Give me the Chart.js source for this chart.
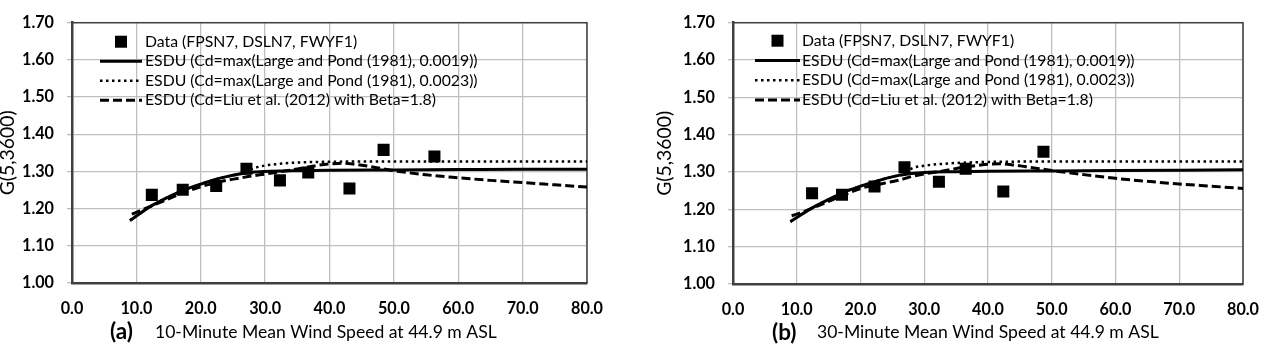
<!DOCTYPE html>
<html>
<head>
<meta charset="utf-8">
<script src="https://cdn.jsdelivr.net/npm/chart.js@4.4.1/dist/chart.umd.min.js"></script>
<style>
  html, body { margin: 0; padding: 0; background: #fff; }
  .panel { position: absolute; top: 0; height: 348px; }
  #panelA { left: 0; width: 637px; }
  #panelB { left: 637px; width: 638px; }
</style>
</head>
<body>
<div class="panel" id="panelA"><canvas id="chartA"></canvas></div>
<div class="panel" id="panelB"><canvas id="chartB"></canvas></div>
<script>
// axis ticks
const speedTicks = [0, 10, 20, 30, 40, 50, 60, 70, 80];
const gustTicks = [1.0, 1.1, 1.2, 1.3, 1.4, 1.5, 1.6, 1.7];

const seriesLabels = [
  'Data (FPSN7, DSLN7, FWYF1)',
  'ESDU (Cd=max(Large and Pond (1981), 0.0019))',
  'ESDU (Cd=max(Large and Pond (1981), 0.0023))',
  'ESDU (Cd=Liu et al. (2012) with Beta=1.8)'
];
const yTitle = 'G(5,3600)';

// (a) 10-minute mean
const obsSpeedA = [12.4, 17.2, 22.4, 27.1, 32.3, 36.7, 43.1, 48.4, 56.3];
const obsGustA  = [1.237, 1.251, 1.261, 1.307, 1.276, 1.297, 1.254, 1.358, 1.340];
const lp19SpeedA = [9, 10, 12, 14, 16, 18, 20, 22, 24, 26, 28, 30, 35, 40, 50, 60, 70, 80];
const lp19GustA  = [1.168, 1.180, 1.204, 1.223, 1.240, 1.254, 1.266, 1.277, 1.286, 1.293, 1.298, 1.300, 1.302, 1.303, 1.304, 1.305, 1.306, 1.306];
const lp23SpeedA = [9, 10, 12, 14, 16, 18, 20, 22, 24, 26, 27, 28, 30, 32, 35, 40, 50, 60, 70, 80];
const lp23GustA  = [1.168, 1.180, 1.204, 1.223, 1.240, 1.254, 1.266, 1.277, 1.286, 1.293, 1.298, 1.307, 1.316, 1.320, 1.324, 1.326, 1.327, 1.327, 1.327, 1.327];
const liuSpeedA = [9.3, 10, 12, 14, 16, 18, 20, 22, 24, 26, 28, 30, 33, 36, 38, 40, 42, 44, 46, 48, 50, 55, 60, 65, 70, 75, 80];
const liuGustA  = [1.185, 1.190, 1.205, 1.219, 1.234, 1.247, 1.259, 1.268, 1.276, 1.282, 1.288, 1.293, 1.301, 1.310, 1.316, 1.320, 1.322, 1.319, 1.314, 1.308, 1.302, 1.291, 1.283, 1.276, 1.270, 1.264, 1.258];

// (b) 30-minute mean
const obsSpeedB = [12.4, 17.1, 22.2, 26.9, 32.3, 36.5, 42.4, 48.7];
const obsGustB  = [1.243, 1.239, 1.261, 1.313, 1.274, 1.309, 1.248, 1.354];
const lp19SpeedB = [9, 10, 12, 14, 16, 18, 20, 22, 24, 26, 28, 30, 35, 40, 50, 60, 70, 80];
const lp19GustB  = [1.167, 1.178, 1.200, 1.218, 1.235, 1.250, 1.262, 1.273, 1.283, 1.291, 1.296, 1.299, 1.301, 1.302, 1.303, 1.304, 1.305, 1.306];
const lp23SpeedB = [9, 10, 12, 14, 16, 18, 20, 22, 24, 26, 27, 28, 30, 33, 36, 40, 50, 60, 70, 80];
const lp23GustB  = [1.167, 1.178, 1.200, 1.218, 1.235, 1.250, 1.262, 1.273, 1.283, 1.291, 1.295, 1.309, 1.317, 1.322, 1.325, 1.327, 1.328, 1.328, 1.328, 1.328];
const liuSpeedB = [9.2, 10, 12, 14, 16, 18, 20, 22, 24, 26, 28, 30, 32, 34, 36, 38, 40, 42, 44, 46, 48, 50, 55, 60, 65, 70, 75, 80];
const liuGustB  = [1.183, 1.187, 1.200, 1.214, 1.229, 1.243, 1.256, 1.264, 1.271, 1.278, 1.288, 1.295, 1.300, 1.306, 1.312, 1.317, 1.321, 1.322, 1.319, 1.314, 1.309, 1.304, 1.293, 1.283, 1.275, 1.268, 1.262, 1.256];

Chart.defaults.font.family = 'Lato';
Chart.defaults.color = '#000';

// Lato stands in for Calibri: pick sizes so text spans the same width as in the original
const measureCtx = document.createElement('canvas').getContext('2d');
function fitFont(text, weight, targetWidth) {
  measureCtx.font = `${weight} 100px Lato`;
  return 100 * targetWidth / measureCtx.measureText(text).width;
}
const tickSize = fitFont('80.0', 'bold', 32);
const legendSize = fitFont(seriesLabels[1], 'normal', 333);
const captionSize = fitFont('10-Minute Mean Wind Speed at 44.9 m ASL', 'normal', 342);
const tagSize = fitFont('(a)', 'bold', 23);
const yTitleSize = fitFont(yTitle, 'normal', 85);

const pts = (xs, ys) => xs.map((x, i) => ({ x: x, y: ys[i] }));

// frame, legend inside the plot, and the "(a) ..." caption under the x axis
const panelDecor = {
  id: 'panelDecor',
  beforeDatasetsDraw(chart, args, opts) {
    const { ctx, chartArea: a } = chart;
    ctx.save();
    ctx.strokeStyle = '#404040';
    ctx.lineWidth = 1.5;
    ctx.strokeRect(a.left, a.top, a.right - a.left, a.bottom - a.top);
    ctx.restore();
  },
  afterDraw(chart, args, opts) {
    const { ctx, chartArea: a } = chart;
    ctx.save();
    ctx.textBaseline = 'middle';
    chart.data.datasets.forEach((ds, i) => {
      const y = a.top + opts.legendTop + i * opts.legendStep;
      const x0 = a.left + opts.sampleLeft;
      const x1 = a.left + opts.sampleRight;
      if (ds.showLine) {
        ctx.beginPath();
        ctx.setLineDash(ds.borderDash || []);
        ctx.lineWidth = ds.borderWidth;
        ctx.strokeStyle = ds.borderColor;
        ctx.moveTo(x0, y);
        ctx.lineTo(x1, y);
        ctx.stroke();
        ctx.setLineDash([]);
      } else {
        ctx.fillStyle = ds.backgroundColor;
        ctx.fillRect((x0 + x1) / 2 - 6, y - 6, 12, 12);
      }
      ctx.fillStyle = '#000';
      ctx.font = `${legendSize}px Lato`;
      ctx.fillText(ds.label, a.left + opts.textLeft, y);
    });
    const cy = a.bottom + opts.captionOffset;
    ctx.font = `bold ${tagSize}px Lato`;
    ctx.fillText(opts.tag, a.left + opts.tagLeft, cy);
    ctx.font = `${captionSize}px Lato`;
    ctx.fillText(opts.caption, a.left + opts.captionLeft, cy);
    ctx.restore();
  }
};

function buildPanel(canvasId, p) {
  const ctx = document.getElementById(canvasId).getContext('2d');
  return new Chart(ctx, {
    type: 'scatter',
    data: {
      datasets: [
        {
          label: seriesLabels[0],
          data: pts(p.obsX, p.obsY),
          showLine: false,
          pointStyle: 'rect',
          pointRadius: 8.5,
          backgroundColor: '#000',
          borderColor: '#000',
          borderWidth: 0
        },
        {
          label: seriesLabels[1],
          data: pts(p.lp19X, p.lp19Y),
          showLine: true,
          borderColor: '#000',
          borderWidth: 3,
          pointRadius: 0,
          cubicInterpolationMode: 'monotone'
        },
        {
          label: seriesLabels[2],
          data: pts(p.lp23X, p.lp23Y),
          showLine: true,
          borderColor: '#000',
          borderWidth: 2.5,
          borderDash: [2.5, 3.5],
          pointRadius: 0,
          cubicInterpolationMode: 'monotone'
        },
        {
          label: seriesLabels[3],
          data: pts(p.liuX, p.liuY),
          showLine: true,
          borderColor: '#000',
          borderWidth: 3,
          borderDash: [9, 4],
          pointRadius: 0,
          cubicInterpolationMode: 'monotone'
        }
      ]
    },
    options: {
      responsive: true,
      maintainAspectRatio: false,
      animation: false,
      events: [],
      layout: { padding: { top: p.padTop, right: p.padRight, left: 0, bottom: 0 } },
      plugins: {
        legend: { display: false },
        tooltip: { enabled: false },
        panelDecor: p.decor
      },
      scales: {
        x: {
          type: 'linear',
          min: 0, max: 80,
          afterBuildTicks: s => { s.ticks = speedTicks.map(v => ({ value: v })); },
          afterFit: s => { s.height = p.xHeight; },
          ticks: {
            padding: 16,
            font: { size: tickSize, weight: 'bold' },
            callback: v => v.toFixed(1)
          },
          grid: { color: '#bfbfbf', lineWidth: 1.3, drawTicks: false },
          border: { display: true, color: '#404040', width: 2.5 }
        },
        y: {
          type: 'linear',
          min: 1.0, max: 1.7,
          afterBuildTicks: s => { s.ticks = gustTicks.map(v => ({ value: v })); },
          afterFit: s => { s.width = p.yWidth; },
          ticks: {
            padding: 13,
            font: { size: tickSize, weight: 'bold' },
            callback: v => v.toFixed(2)
          },
          grid: { color: '#bfbfbf', lineWidth: 1.3, tickLength: 5 },
          border: { display: true, color: '#404040', width: 2.5 },
          title: {
            display: true,
            text: yTitle,
            font: { size: yTitleSize, lineHeight: 1 },
            padding: { top: p.titlePad, bottom: 0 }
          }
        }
      }
    },
    plugins: [panelDecor]
  });
}

buildPanel('chartA', {
  obsX: obsSpeedA, obsY: obsGustA,
  lp19X: lp19SpeedA, lp19Y: lp19GustA,
  lp23X: lp23SpeedA, lp23Y: lp23GustA,
  liuX: liuSpeedA, liuY: liuGustA,
  padTop: 13, padRight: 50, xHeight: 65, yWidth: 72, titlePad: -1.5,
  decor: {
    legendTop: 19, legendStep: 19.5,
    sampleLeft: 28, sampleRight: 70, textLeft: 73,
    tag: '(a)', caption: '10-Minute Mean Wind Speed at 44.9 m ASL',
    tagLeft: 38, captionLeft: 83, captionOffset: 49
  }
});

buildPanel('chartB', {
  obsX: obsSpeedB, obsY: obsGustB,
  lp19X: lp19SpeedB, lp19Y: lp19GustB,
  lp23X: lp23SpeedB, lp23Y: lp23GustB,
  liuX: liuSpeedB, liuY: liuGustB,
  padTop: 14, padRight: 26, xHeight: 64, yWidth: 96, titlePad: 18.5,
  decor: {
    legendTop: 18, legendStep: 19.8,
    sampleLeft: 22, sampleRight: 67, textLeft: 69,
    tag: '(b)', caption: '30-Minute Mean Wind Speed at 44.9 m ASL',
    tagLeft: 39, captionLeft: 84, captionOffset: 48.5
  }
});
</script>
</body>
</html>
